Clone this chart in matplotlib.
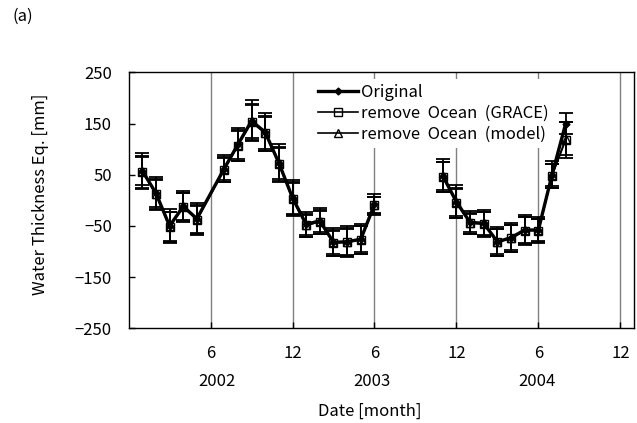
import numpy as np
import matplotlib
matplotlib.use("Agg")
import matplotlib.pyplot as plt
import matplotlib.transforms as mtransforms

plt.rcParams['font.family'] = ['Noto Sans CJK JP', 'DejaVu Sans']

# month index (1 = Jan 2002)
months = [1, 2, 3, 4, 5, 7, 8, 9, 10, 11, 12, 13, 14, 15, 16, 17, 18,
          23, 24, 25, 26, 27, 28, 29, 30, 31, 32]
original = [58, 14, -50, -12, -36, 62, 109, 155, 133, 73, 5, -47, -40, -82, -81, -76, -8,
            48, -3, -43, -45, -81, -73, -58, -58, 50, 150]
grace_removed = [56, 12, -52, -13, -38, 60, 107, 153, 131, 71, 3, -49, -42, -83, -82, -77, -10,
                 46, -5, -45, -46, -82, -74, -59, -59, 48, 118]
model_removed = [57, 13, -51, -12, -37, 61, 108, 154, 132, 72, 4, -48, -41, -82, -81, -76, -9,
                 47, -4, -44, -45, -81, -73, -58, -58, 49, 120]
err_original = [35, 32, 33, 30, 31, 27, 33, 40, 37, 37, 35, 24, 25, 27, 30, 29, 20,
                32, 32, 22, 26, 28, 28, 30, 25, 26, 20]
err_grace = [31, 29, 30, 28, 28, 24, 30, 35, 34, 33, 32, 22, 23, 25, 27, 27, 17,
             29, 29, 20, 24, 26, 26, 27, 23, 23, 35]
err_model = [28, 27, 28, 26, 26, 22, 28, 32, 31, 31, 30, 20, 21, 23, 25, 25, 15,
             27, 27, 18, 22, 24, 24, 25, 21, 21, 32]

xticks = [6, 12, 18, 24, 30, 36]
xticklabels = ['6', '12', '6', '12', '6', '12']
year_pos = [6.5, 17.8, 29.9]
year_labels = ['2002', '2003', '2004']
yticks = [-250, -150, -50, 50, 150, 250]

FS = 12

fig = plt.figure(figsize=(6.37, 4.23), dpi=100)
ax = fig.add_axes([128.6 / 637, 1 - 328.3 / 423, (634 - 128.6) / 637, (328.3 - 72.3) / 423])

m = np.array(months)
breaks = np.where(np.diff(m) > 2)[0] + 1
segments = np.split(np.arange(len(m)), breaks)

series = [
    (original, err_original, dict(color='black', lw=2.4, marker='D', ms=3.5, mfc='black', mec='black'), 'Original', 4),
    (grace_removed, err_grace, dict(color='black', lw=1.2, marker='s', ms=6, mfc='none', mec='black', mew=1.0), 'remove  Ocean  (GRACE)', 3),
    (model_removed, err_model, dict(color='black', lw=1.2, marker='^', ms=6, mfc='none', mec='black', mew=1.0), 'remove  Ocean  (model)', 3),
]

for vals, errs, style, label, z in series:
    v = np.array(vals, dtype=float)
    e = np.array(errs, dtype=float)
    for seg in segments:
        ax.errorbar(m[seg], v[seg], yerr=e[seg], fmt='none', ecolor='black',
                    elinewidth=1.3, capsize=5, capthick=1.3, zorder=z)
        ax.plot(m[seg], v[seg], zorder=z + 1, **style)
    ax.plot([], [], label=label, **style)

ax.set_xlim(0, 37)
ax.set_ylim(-250, 250)
ax.set_xticks(xticks)
ax.set_xticklabels(xticklabels)
ax.set_yticks(yticks)
ax.grid(axis='x', color='#808080', lw=1.0)
ax.set_axisbelow(True)
ax.tick_params(axis='both', direction='in', length=4, width=1, labelsize=FS)
ax.tick_params(axis='x', pad=12)
ax.tick_params(axis='y', pad=12)
for sp in ax.spines.values():
    sp.set_linewidth(1.0)

trans = mtransforms.blended_transform_factory(ax.transData, ax.transAxes)
for xp, yl in zip(year_pos, year_labels):
    ax.text(xp, -0.2086, yl, transform=trans, ha='center', va='center', fontsize=FS)
ax.text(0.478, -0.323, 'Date [month]', transform=ax.transAxes, ha='center', va='center', fontsize=FS)
fig.text(41 / 637, 1 - 194 / 423, 'Water Thickness Eq. [mm]', rotation=90,
         ha='center', va='center', fontsize=FS)
fig.text(23 / 637, 1 - 16 / 423, '(a)', ha='center', va='center', fontsize=FS)

leg = ax.legend(loc='upper left', bbox_to_anchor=(0.365, 0.975), frameon=True,
                facecolor='white', edgecolor='none', framealpha=1, fontsize=FS,
                handlelength=2.4, handletextpad=0.2, borderpad=0.3, labelspacing=0.25,
                borderaxespad=0)
leg.set_zorder(10)

fig.savefig('out.png', dpi=100)
